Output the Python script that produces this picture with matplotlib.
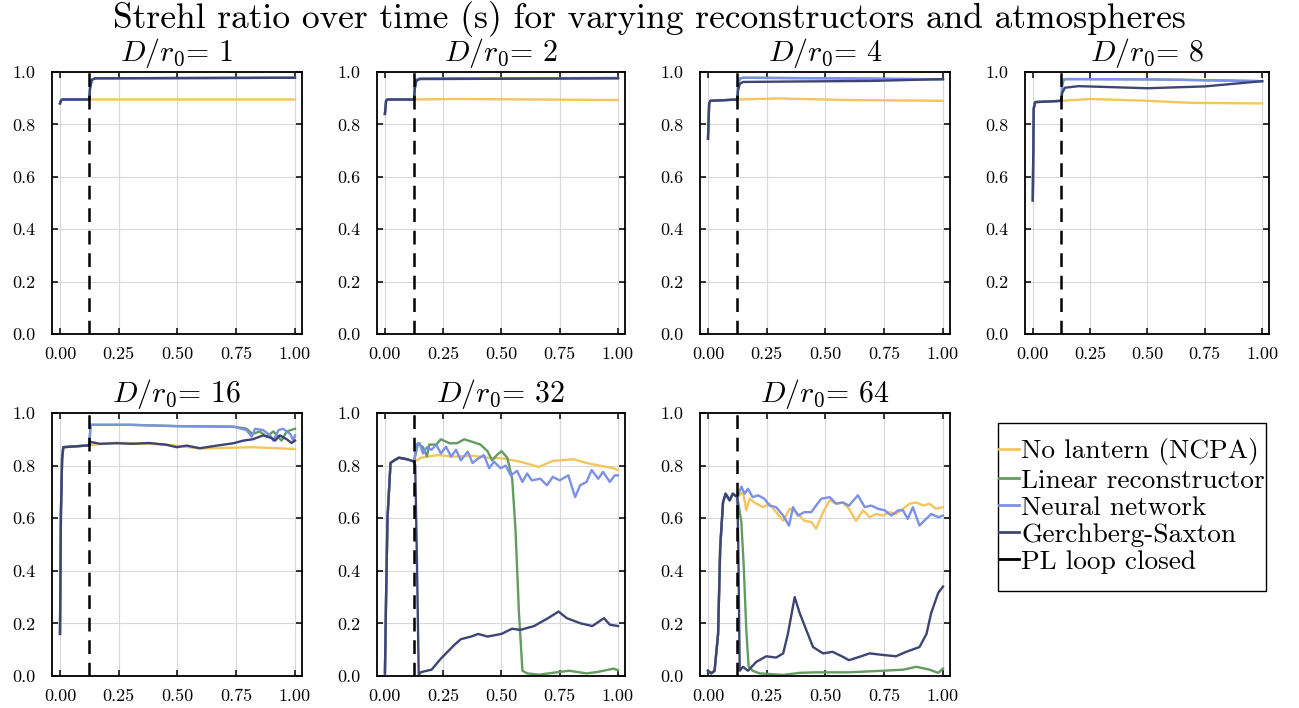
import matplotlib
matplotlib.use('Agg')
import matplotlib.pyplot as plt
from matplotlib.lines import Line2D
from matplotlib.patches import Rectangle

plt.rcParams['font.family'] = ['cmr10', 'DejaVu Serif']
plt.rcParams['mathtext.fontset'] = 'cm'
plt.rcParams['axes.formatter.use_mathtext'] = True

# values
labels = ['No lantern (NCPA)', 'Linear reconstructor', 'Neural network', 'Gerchberg-Saxton']
colors = ['#F3C55E', '#629C61', '#7C90E8', '#3E4574']
ratios = [1, 2, 4, 8, 16, 32, 64]
t_close = 0.125

# --- D/r0 = 1
open1_t = [0, 0.005, 0.01, 0.125]
open1_v = [0.88, 0.892, 0.895, 0.895]
ncpa1_t = [0.125, 1.0]
ncpa1_v = [0.895, 0.895]
lin1_t = [0.125, 0.128, 0.135, 0.15, 1.0]
lin1_v = [0.895, 0.94, 0.97, 0.976, 0.978]
nn1_t = [0.125, 0.128, 0.135, 0.15, 1.0]
nn1_v = [0.895, 0.94, 0.97, 0.976, 0.978]
gs1_t = [0.125, 0.128, 0.135, 0.15, 1.0]
gs1_v = [0.895, 0.94, 0.97, 0.976, 0.978]

# --- D/r0 = 2
open2_t = [0, 0.005, 0.01, 0.125]
open2_v = [0.84, 0.89, 0.895, 0.895]
ncpa2_t = [0.125, 0.3, 1.0]
ncpa2_v = [0.895, 0.897, 0.893]
lin2_t = [0.125, 0.128, 0.135, 0.15, 1.0]
lin2_v = [0.895, 0.94, 0.97, 0.975, 0.977]
nn2_t = [0.125, 0.128, 0.135, 0.15, 1.0]
nn2_v = [0.895, 0.94, 0.97, 0.975, 0.977]
gs2_t = [0.125, 0.128, 0.135, 0.15, 1.0]
gs2_v = [0.895, 0.935, 0.967, 0.973, 0.976]

# --- D/r0 = 4
open4_t = [0, 0.005, 0.01, 0.125]
open4_v = [0.745, 0.88, 0.89, 0.895]
ncpa4_t = [0.125, 0.3, 0.6, 1.0]
ncpa4_v = [0.897, 0.899, 0.893, 0.89]
lin4_t = [0.125, 0.128, 0.135, 0.15, 0.5, 1.0]
lin4_v = [0.895, 0.95, 0.975, 0.978, 0.976, 0.972]
nn4_t = [0.125, 0.128, 0.135, 0.15, 0.5, 1.0]
nn4_v = [0.895, 0.95, 0.975, 0.978, 0.976, 0.972]
gs4_t = [0.125, 0.128, 0.135, 0.15, 0.4, 0.7, 1.0]
gs4_v = [0.895, 0.93, 0.955, 0.962, 0.964, 0.966, 0.973]

# --- D/r0 = 8
open8_t = [0, 0.004, 0.01, 0.125]
open8_v = [0.51, 0.86, 0.885, 0.89]
ncpa8_t = [0.125, 0.25, 0.5, 0.7, 1.0]
ncpa8_v = [0.893, 0.897, 0.89, 0.882, 0.88]
lin8_t = [0.125, 0.128, 0.135, 0.15, 0.5, 0.8, 1.0]
lin8_v = [0.89, 0.95, 0.972, 0.973, 0.972, 0.968, 0.965]
nn8_t = [0.125, 0.128, 0.135, 0.15, 0.5, 0.8, 1.0]
nn8_v = [0.89, 0.95, 0.972, 0.973, 0.972, 0.968, 0.965]
gs8_t = [0.125, 0.128, 0.14, 0.2, 0.5, 0.75, 1.0]
gs8_v = [0.89, 0.92, 0.94, 0.946, 0.938, 0.945, 0.965]

# --- D/r0 = 16
open16_t = [0, 0.004, 0.009, 0.014, 0.11, 0.125]
open16_v = [0.16, 0.62, 0.825, 0.87, 0.876, 0.878]
ncpa16_t = [0.125, 0.24, 0.45, 0.595, 0.74, 0.82, 1.0]
ncpa16_v = [0.88, 0.887, 0.88, 0.865, 0.868, 0.87, 0.863]
lin16_t = [0.125, 0.13, 0.3, 0.5, 0.74, 0.794, 0.82, 0.85, 0.88, 0.908, 0.943, 0.965, 1.0]
lin16_v = [0.878, 0.955, 0.955, 0.95, 0.948, 0.94, 0.92, 0.93, 0.91, 0.93, 0.895, 0.93, 0.94]
nn16_t = [0.125, 0.13, 0.3, 0.5, 0.738, 0.794, 0.816, 0.83, 0.865, 0.894, 0.908, 0.93, 0.95,
          0.98, 0.993, 1.0]
nn16_v = [0.878, 0.955, 0.955, 0.95, 0.948, 0.935, 0.91, 0.94, 0.935, 0.915, 0.895, 0.935, 0.94,
          0.92, 0.895, 0.915]
gs16_t = [0.125, 0.13, 0.17, 0.24, 0.31, 0.38, 0.454, 0.496, 0.54, 0.595, 0.667, 0.738, 0.78,
          0.82, 0.865, 0.9, 0.915, 0.936, 0.965, 0.986, 1.0]
gs16_v = [0.878, 0.89, 0.883, 0.885, 0.883, 0.886, 0.879, 0.87, 0.876, 0.866, 0.876, 0.885, 0.895,
          0.9, 0.915, 0.905, 0.895, 0.915, 0.9, 0.886, 0.895]

# --- D/r0 = 32
open32_t = [0, 0.005, 0.011, 0.024, 0.04, 0.06, 0.09, 0.11, 0.125]
open32_v = [0.01, 0.3, 0.6, 0.81, 0.82, 0.83, 0.825, 0.82, 0.815]
ncpa32_t = [0.125, 0.156, 0.227, 0.3, 0.37, 0.44, 0.51, 0.58, 0.66, 0.72, 0.81, 0.865, 0.92,
            0.98, 1.0]
ncpa32_v = [0.81, 0.83, 0.84, 0.834, 0.838, 0.83, 0.827, 0.815, 0.795, 0.818, 0.824, 0.81, 0.8,
            0.79, 0.783]
lin32_t = [0.125, 0.142, 0.163, 0.18, 0.19, 0.22, 0.24, 0.277, 0.31, 0.34, 0.376, 0.41, 0.44,
           0.46, 0.48, 0.5, 0.525, 0.546, 0.56, 0.575, 0.59, 0.61, 0.66, 0.72, 0.79, 0.865,
           0.91, 0.98, 1.0]
lin32_v = [0.815, 0.885, 0.87, 0.835, 0.88, 0.88, 0.9, 0.885, 0.885, 0.9, 0.89, 0.88, 0.855,
           0.82, 0.84, 0.855, 0.83, 0.75, 0.56, 0.24, 0.02, 0.01, 0.005, 0.012, 0.02, 0.01,
           0.015, 0.028, 0.022]
nn32_t = [0.125, 0.135, 0.149, 0.163, 0.18, 0.2, 0.22, 0.24, 0.262, 0.284, 0.305, 0.326, 0.355,
          0.376, 0.4, 0.425, 0.447, 0.468, 0.496, 0.518, 0.54, 0.567, 0.59, 0.61, 0.63, 0.667,
          0.695, 0.72, 0.75, 0.787, 0.8, 0.816, 0.837, 0.865, 0.887, 0.915, 0.936, 0.965,
          0.986, 1.0]
nn32_v = [0.815, 0.88, 0.885, 0.846, 0.87, 0.86, 0.88, 0.846, 0.872, 0.834, 0.86, 0.82, 0.853,
          0.81, 0.827, 0.84, 0.79, 0.815, 0.79, 0.8, 0.763, 0.78, 0.738, 0.77, 0.744, 0.75,
          0.725, 0.757, 0.744, 0.763, 0.725, 0.68, 0.725, 0.738, 0.783, 0.75, 0.776, 0.738,
          0.763, 0.763]
gs32_t = [0.125, 0.13, 0.138, 0.145, 0.156, 0.2, 0.24, 0.3, 0.326, 0.37, 0.4, 0.44, 0.5, 0.546,
          0.58, 0.64, 0.7, 0.745, 0.78, 0.84, 0.89, 0.94, 0.965, 1.0]
gs32_v = [0.815, 0.8, 0.4, 0.005, 0.015, 0.024, 0.066, 0.12, 0.14, 0.15, 0.16, 0.15, 0.16, 0.18,
          0.175, 0.19, 0.22, 0.245, 0.22, 0.2, 0.19, 0.22, 0.195, 0.19]

# --- D/r0 = 64
open64_t = [0, 0.014, 0.028, 0.043, 0.052, 0.064, 0.075, 0.092, 0.106, 0.125]
open64_v = [0.02, 0.01, 0.02, 0.16, 0.49, 0.66, 0.693, 0.668, 0.693, 0.68]
ncpa64_t = [0.125, 0.149, 0.163, 0.177, 0.206, 0.234, 0.262, 0.29, 0.32, 0.348, 0.376, 0.41,
            0.44, 0.46, 0.49, 0.518, 0.546, 0.574, 0.6, 0.63, 0.66, 0.688, 0.716, 0.745, 0.773,
            0.8, 0.83, 0.858, 0.887, 0.915, 0.943, 0.97, 1.0]
ncpa64_v = [0.69, 0.7, 0.63, 0.674, 0.655, 0.642, 0.655, 0.623, 0.59, 0.636, 0.623, 0.59, 0.585,
            0.56, 0.623, 0.668, 0.655, 0.66, 0.636, 0.59, 0.63, 0.604, 0.616, 0.61, 0.623,
            0.616, 0.636, 0.655, 0.66, 0.648, 0.655, 0.636, 0.642]
lin64_t = [0.125, 0.142, 0.152, 0.163, 0.173, 0.19, 0.22, 0.32, 0.39, 0.46, 0.6, 0.745, 0.83,
           0.887, 0.943, 0.98, 1.0]
lin64_v = [0.69, 0.585, 0.42, 0.175, 0.035, 0.02, 0.01, 0.004, 0.012, 0.014, 0.014, 0.02, 0.024,
           0.035, 0.024, 0.012, 0.028]
nn64_t = [0.125, 0.142, 0.156, 0.17, 0.19, 0.213, 0.24, 0.262, 0.29, 0.32, 0.345, 0.362, 0.383,
          0.41, 0.44, 0.46, 0.482, 0.518, 0.546, 0.574, 0.6, 0.638, 0.667, 0.695, 0.723, 0.752,
          0.78, 0.81, 0.83, 0.85, 0.872, 0.9, 0.92, 0.95, 0.98, 1.0]
nn64_v = [0.71, 0.72, 0.693, 0.712, 0.68, 0.687, 0.674, 0.648, 0.642, 0.61, 0.572, 0.642, 0.61,
          0.623, 0.623, 0.648, 0.674, 0.68, 0.655, 0.66, 0.648, 0.687, 0.642, 0.648, 0.636,
          0.63, 0.61, 0.63, 0.63, 0.597, 0.642, 0.572, 0.59, 0.616, 0.604, 0.61]
gs64_t = [0.125, 0.129, 0.135, 0.149, 0.17, 0.206, 0.248, 0.29, 0.32, 0.34, 0.369, 0.39, 0.41,
          0.447, 0.49, 0.53, 0.574, 0.6, 0.645, 0.688, 0.745, 0.8, 0.844, 0.9, 0.93, 0.95,
          0.98, 1.0]
gs64_v = [0.68, 0.49, 0.02, 0.035, 0.02, 0.054, 0.075, 0.07, 0.086, 0.16, 0.3, 0.24, 0.194,
          0.11, 0.086, 0.092, 0.073, 0.06, 0.073, 0.086, 0.08, 0.075, 0.092, 0.11, 0.16, 0.24,
          0.316, 0.34]

panels = [
    (open1_t, open1_v, [(ncpa1_t, ncpa1_v), (lin1_t, lin1_v), (nn1_t, nn1_v), (gs1_t, gs1_v)]),
    (open2_t, open2_v, [(ncpa2_t, ncpa2_v), (lin2_t, lin2_v), (nn2_t, nn2_v), (gs2_t, gs2_v)]),
    (open4_t, open4_v, [(ncpa4_t, ncpa4_v), (lin4_t, lin4_v), (nn4_t, nn4_v), (gs4_t, gs4_v)]),
    (open8_t, open8_v, [(ncpa8_t, ncpa8_v), (lin8_t, lin8_v), (nn8_t, nn8_v), (gs8_t, gs8_v)]),
    (open16_t, open16_v, [(ncpa16_t, ncpa16_v), (lin16_t, lin16_v), (nn16_t, nn16_v), (gs16_t, gs16_v)]),
    (open32_t, open32_v, [(ncpa32_t, ncpa32_v), (lin32_t, lin32_v), (nn32_t, nn32_v), (gs32_t, gs32_v)]),
    (open64_t, open64_v, [(ncpa64_t, ncpa64_v), (lin64_t, lin64_v), (nn64_t, nn64_v), (gs64_t, gs64_v)]),
]

W, H = 1299, 708
fig = plt.figure(figsize=(W / 100, H / 100), dpi=100)

# axes boxes in pixels: left, right, top, bottom
col_x = [(52, 302), (377, 625), (700, 950), (1025, 1269)]
row_y = [(72, 334), (413, 676)]

for k, (ot, ov, series) in enumerate(panels):
    r, c = divmod(k, 4)
    x0, x1 = col_x[c]
    y0, y1 = row_y[r]
    ax = fig.add_axes([x0 / W, (H - y1) / H, (x1 - x0) / W, (y1 - y0) / H])
    for (st, sv), col in zip(series, colors):
        # before loop closing every reconstructor shares the open-loop trace
        ax.plot(ot + st[1:], ov + sv[1:], color=col, lw=1.7, solid_joinstyle='round')
    ax.axvline(t_close, color='black', lw=1.8, ls=(0, (5.5, 3.5)))
    ax.set_xlim(-0.034, 1.03)
    ax.set_ylim(0, 1)
    ax.set_xticks([0, 0.25, 0.5, 0.75, 1.0])
    ax.set_xticklabels(['0.00', '0.25', '0.50', '0.75', '1.00'])
    ax.set_yticks([0, 0.2, 0.4, 0.6, 0.8, 1.0])
    ax.set_yticklabels(['0.0', '0.2', '0.4', '0.6', '0.8', '1.0'])
    ax.tick_params(direction='in', length=4, width=1.1, top=True, right=True,
                   labelsize=13, color='black')
    ax.tick_params(axis='x', pad=9)
    ax.tick_params(axis='y', pad=12)
    ax.grid(True, color='#d8d8d8', lw=0.8)
    for sp in ax.spines.values():
        sp.set_linewidth(1.3)
    ax.set_title(r'$D/r_0$= ' + str(ratios[k]), fontsize=21.5, pad=8)

fig.text(0.5, 1 - 1 / H, 'Strehl ratio over time (s) for varying reconstructors and atmospheres',
         fontsize=25.5, ha='center', va='top')

# legend box drawn by hand so the handles can sit against the frame
fig.patches.append(Rectangle((998 / W, 1 - 591 / H), (1266 - 998) / W, (591 - 423) / H,
                             transform=fig.transFigure, fill=False, edgecolor='black',
                             lw=1.0, zorder=5))
handles = [Line2D([], [], color=col, lw=2) for col in colors]
handles.append(Line2D([], [], color='black', lw=2))
leg = fig.legend(handles, labels + ['PL loop closed'], loc='upper left',
                 bbox_to_anchor=(998 / W, 1 - 437 / H), fontsize=19.7, frameon=False,
                 handlelength=0.7, handletextpad=0.1, labelspacing=0.11,
                 borderpad=0.05, borderaxespad=0)

fig.savefig('out.png', dpi=100)
